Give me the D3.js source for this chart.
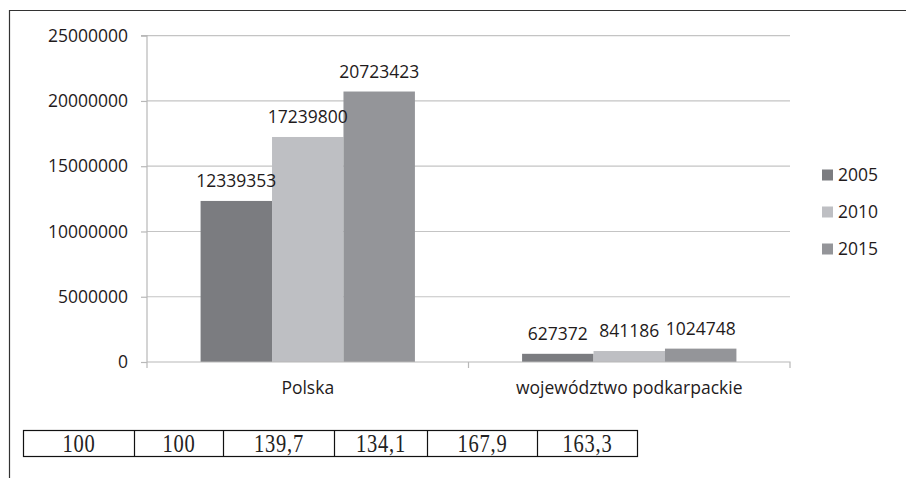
<!DOCTYPE html>
<html>
<head>
<meta charset="utf-8">
<script src="https://cdn.jsdelivr.net/npm/d3@7"></script>
<style>
  html, body { margin: 0; padding: 0; background: #fff; }
  svg { display: block; }
</style>
</head>
<body>
<svg id="chart" width="906" height="478"></svg>
<script>
// Data
const categories = ["Polska", "województwo podkarpackie"];
const seriesNames = ["2005", "2010", "2015"];
const values2005 = [12339353, 627372];
const values2010 = [17239800, 841186];
const values2015 = [20723423, 1024748];
const yTicks = [0, 5000000, 10000000, 15000000, 20000000, 25000000];
const indexValues = ["100", "100", "139,7", "134,1", "167,9", "163,3"];

const seriesValues = [values2005, values2010, values2015];
const colors = ["#7b7c80", "#bebfc3", "#949599"];
const textColor = "#1f1b1c";
const font = "'Open Sans', sans-serif";
const fontSize = 17.5;

const svg = d3.select("#chart");

// Outer frame (open at right and bottom edges)
svg.append("path")
  .attr("d", "M9.5,478 L9.5,10.5 L906,10.5")
  .attr("fill", "none")
  .attr("stroke", "#333")
  .attr("stroke-width", 1.2);

// Plot area
const plot = { left: 147, right: 790, top: 35.7, bottom: 362 };

const x0 = d3.scaleBand()
  .domain(categories)
  .range([plot.left, plot.right])
  .paddingInner(0)
  .paddingOuter(0);

// Excel-style 150% gap: 3 bars + 1.5 bar widths of gap per category
const barW = x0.bandwidth() / 4.5;
const x1 = d3.scaleBand()
  .domain(seriesNames)
  .range([barW * 0.75, barW * 0.75 + barW * 3])
  .padding(0);

const y = d3.scaleLinear()
  .domain([0, 25000000])
  .range([plot.bottom, plot.top]);

// Gridlines
svg.append("g")
  .selectAll("line")
  .data(yTicks.filter(d => d > 0))
  .join("line")
  .attr("x1", plot.left)
  .attr("x2", plot.right)
  .attr("y1", d => y(d))
  .attr("y2", d => y(d))
  .attr("stroke", "#c4c4c4")
  .attr("stroke-width", 1.2);

// Y axis
const yAxis = d3.axisLeft(y)
  .tickValues(yTicks)
  .tickSize(6)
  .tickPadding(13)
  .tickFormat(d3.format("d"));

const gy = svg.append("g")
  .attr("transform", `translate(${plot.left},0)`)
  .call(yAxis);
gy.select(".domain")
  .attr("d", `M-6,${plot.top}H0V${plot.bottom + 6}`)
  .attr("stroke", "#b8b8b8")
  .attr("stroke-width", 1.2);
gy.selectAll(".tick line").attr("stroke", "#b8b8b8").attr("stroke-width", 1.2);
gy.selectAll(".tick text")
  .attr("fill", textColor)
  .style("font-family", font)
  .style("font-size", fontSize + "px");

// Bars
const groups = svg.append("g")
  .selectAll("g")
  .data(categories)
  .join("g")
  .attr("transform", d => `translate(${x0(d)},0)`);

groups.selectAll("rect")
  .data((c, ci) => seriesNames.map((s, si) => ({ s, si, v: seriesValues[si][ci] })))
  .join("rect")
  .attr("x", d => x1(d.s))
  .attr("width", x1.bandwidth())
  .attr("y", d => y(d.v))
  .attr("height", d => y(0) - y(d.v))
  .attr("fill", d => colors[d.si]);

// Value labels
groups.selectAll("text")
  .data((c, ci) => seriesNames.map((s, si) => ({ s, si, v: seriesValues[si][ci] })))
  .join("text")
  .attr("x", d => x1(d.s) + x1.bandwidth() / 2)
  .attr("y", d => y(d.v) - 14)
  .attr("text-anchor", "middle")
  .attr("fill", textColor)
  .style("font-family", font)
  .style("font-size", fontSize + "px")
  .text(d => d.v);

// X axis
const xAxis = d3.axisBottom(x0).tickSize(0).tickPadding(20);
const gx = svg.append("g")
  .attr("transform", `translate(0,${plot.bottom})`)
  .call(xAxis);
gx.select(".domain").attr("stroke", "#b8b8b8").attr("stroke-width", 1.2)
  .attr("d", `M${plot.left},0H${plot.right}V6`);
gx.selectAll(".tick text")
  .attr("fill", textColor)
  .style("font-family", font)
  .style("font-size", fontSize + "px");
// Category separator ticks
svg.append("g")
  .selectAll("line")
  .data(categories.slice(1))
  .join("line")
  .attr("x1", d => x0(d))
  .attr("x2", d => x0(d))
  .attr("y1", plot.bottom)
  .attr("y2", plot.bottom + 6)
  .attr("stroke", "#b8b8b8")
  .attr("stroke-width", 1.2);

// Legend
const legend = svg.append("g")
  .selectAll("g")
  .data(seriesNames)
  .join("g")
  .attr("transform", (d, i) => `translate(822,${175 + i * 37})`);
legend.append("rect")
  .attr("x", 0).attr("y", -5.5)
  .attr("width", 11).attr("height", 11)
  .attr("fill", (d, i) => colors[i]);
legend.append("text")
  .attr("x", 16).attr("y", 0)
  .attr("dy", "0.35em")
  .attr("fill", textColor)
  .style("font-family", font)
  .style("font-size", fontSize + "px")
  .text(d => d);

// Index table below the chart
const colEdges = [23, 134, 223, 334, 427, 537, 637];
const tableTop = 430.5, tableBottom = 456.5;
const table = svg.append("g");
table.append("rect")
  .attr("x", colEdges[0] + 0.5)
  .attr("y", tableTop)
  .attr("width", colEdges[colEdges.length - 1] - colEdges[0])
  .attr("height", tableBottom - tableTop)
  .attr("fill", "none")
  .attr("stroke", "#111")
  .attr("stroke-width", 1.2);
table.selectAll("line")
  .data(colEdges.slice(1, -1))
  .join("line")
  .attr("x1", d => d + 0.5).attr("x2", d => d + 0.5)
  .attr("y1", tableTop).attr("y2", tableBottom)
  .attr("stroke", "#111")
  .attr("stroke-width", 1.2);
table.selectAll("text")
  .data(indexValues)
  .join("text")
  .attr("transform", (d, i) => `translate(${(colEdges[i] + colEdges[i + 1]) / 2 + 0.5},${tableBottom - 5}) scale(1,1.2)`)
  .attr("text-anchor", "middle")
  .attr("fill", "#222")
  .style("font-family", "'Liberation Serif', 'Times New Roman', serif")
  .style("font-size", "20.5px")
  .style("letter-spacing", "0.8px")
  .text(d => d);
</script>
</body>
</html>
